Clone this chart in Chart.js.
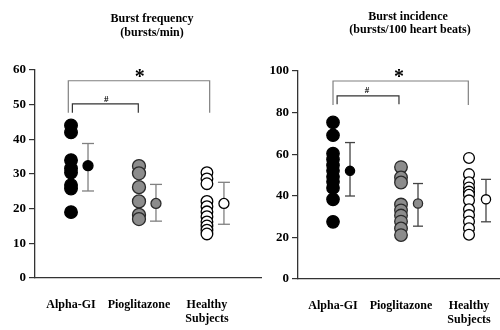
<!DOCTYPE html>
<html>
<head>
<meta charset="utf-8">
<script src="https://cdn.jsdelivr.net/npm/chart.js@4.4.0/dist/chart.umd.min.js"></script>
<style>
  body { margin: 0; background: #fff; }
  #wrap { position: relative; width: 500px; height: 330px; }
  canvas { position: absolute; top: 0; }
  #freqChart { left: 0; }
  #incChart { left: 262px; }
</style>
</head>
<body>
<div id="wrap">
  <canvas id="freqChart" width="262" height="330"></canvas>
  <canvas id="incChart" width="238" height="330"></canvas>
</div>
<script>
const serif = '"Liberation Serif", "Times New Roman", serif';

const categories = ['Alpha-GI', 'Pioglitazone', ['Healthy', 'Subjects']];

// burst frequency (bursts/min)
const freqAlpha = [44, 42, 34, 31.6, 30.4, 26.8, 25.8, 19];
const freqPio = [32.3, 30.2, 26.2, 22.1, 18.2, 17];
const freqHealthy = [30.4, 28.6, 27.2, 22.1, 20.6, 19.1, 17.7, 16.2, 15, 13.8, 12.7];
const freqMean = [32.4, 21.5, 21.5];
const freqLow = [25.1, 16.4, 15.5];
const freqHigh = [38.8, 27, 27.6];

// burst incidence (bursts/100 heart beats)
const incAlpha = [75.3, 69.1, 60.3, 57.5, 54.7, 52, 49.1, 46.7, 43.8, 38.3, 27.5];
const incPio = [53.8, 48.8, 46.4, 35.8, 33, 30.5, 27.6, 24.3, 21.1];
const incHealthy = [58.2, 50.4, 46.5, 44, 42, 40.5, 37.8, 33.5, 30.7, 27.6, 24.4, 21.3];
const incMean = [52, 36.3, 38.3];
const incLow = [39.9, 25.4, 27.5];
const incHigh = [65.6, 45.9, 47.9];

// significance brackets: [x from, x to, top, bottom]
const freqBrackets = [[0.96, 3.04, 56.9, 47.7], [1.02, 1.99, 50.2, 47.7]];
const incBrackets = [[1.0, 2.99, 95.2, 83.6], [1.06, 1.97, 88, 84]];

const groupStyles = [
  { fill: '#000', border: '#000' },
  { fill: '#8c8c8c', border: '#2a2a2a' },
  { fill: '#fff', border: '#000' }
];

const figText = {
  id: 'figText',
  afterDraw(chart, args, opts) {
    const ctx = chart.ctx;
    const xs = chart.scales.x, ys = chart.scales.y;
    ctx.save();
    ctx.fillStyle = '#000';
    ctx.textAlign = 'center';
    ctx.textBaseline = 'middle';
    opts.titles.forEach(t => {
      ctx.font = 'bold ' + t.size + 'px ' + serif;
      ctx.fillText(t.text, t.x, t.y);
    });
    opts.marks.forEach(m => {
      ctx.font = 'bold ' + m.size + 'px ' + serif;
      ctx.fillText(m.text, xs.getPixelForValue(m.x), ys.getPixelForValue(m.y));
    });
    ctx.restore();
  }
};

function makeChart(id, o) {
  const datasets = [];
  const groups = [o.alpha, o.pio, o.healthy];

  groups.forEach((vals, i) => {
    datasets.push({
      data: vals.map(v => ({ x: i + 1, y: v })),
      pointRadius: o.dotRadius[i],
      pointBackgroundColor: groupStyles[i].fill,
      pointBorderColor: groupStyles[i].border,
      pointBorderWidth: 1.3
    });
    datasets.push({
      data: [{ x: i + 1.25, y: o.mean[i] }],
      pointRadius: o.meanRadius,
      pointBackgroundColor: groupStyles[i].fill,
      pointBorderColor: groupStyles[i].border,
      pointBorderWidth: 1.3
    });
    datasets.push({
      data: [{ x: i + 1.25, y: o.low[i] }, { x: i + 1.25, y: o.high[i] }],
      showLine: true,
      borderColor: o.barColor,
      borderWidth: 1.3,
      pointStyle: 'line',
      pointRadius: o.capRadius,
      pointBorderColor: o.barColor,
      pointBorderWidth: 1.3
    });
  });

  o.brackets.forEach((b, i) => {
    datasets.push({
      data: [{ x: b[0], y: b[3] }, { x: b[0], y: b[2] }, { x: b[1], y: b[2] }, { x: b[1], y: b[3] }],
      showLine: true,
      borderColor: i === 0 ? '#808080' : '#333',
      borderWidth: 1.2,
      pointRadius: 0
    });
  });

  return new Chart(document.getElementById(id), {
    type: 'scatter',
    data: { datasets: datasets },
    options: {
      responsive: false,
      animation: false,
      events: [],
      layout: { autoPadding: false, padding: { top: o.top, left: 0, right: 0, bottom: 0 } },
      plugins: {
        legend: { display: false },
        tooltip: { enabled: false },
        figText: { titles: o.titles, marks: o.marks }
      },
      scales: {
        x: {
          type: 'linear',
          min: o.xMin,
          max: o.xMax,
          afterBuildTicks: axis => { axis.ticks = [1, 2, 3].map(v => ({ value: v })); },
          afterFit: axis => {
            axis.height = 330 - o.bottom;
            axis.paddingLeft = 0;
            axis.paddingRight = 0;
          },
          grid: { display: false },
          border: { display: true, color: '#333', width: 1.3 },
          ticks: {
            autoSkip: false,
            maxRotation: 0,
            padding: 12,
            color: '#000',
            font: { family: serif, size: 12, weight: 'bold', lineHeight: 1.15 },
            callback: v => categories[v - 1]
          }
        },
        y: {
          min: 0,
          max: o.yMax,
          afterFit: axis => { axis.width = o.axisWidth; },
          grid: { drawOnChartArea: false, drawTicks: true, tickLength: 6, color: '#333', lineWidth: 1.2 },
          border: { display: true, color: '#333', width: 1.3 },
          ticks: {
            stepSize: o.step,
            padding: 3,
            color: '#000',
            font: { family: serif, size: 13, weight: 'bold' }
          }
        }
      }
    },
    plugins: [figText]
  });
}

makeChart('freqChart', {
  alpha: freqAlpha, pio: freqPio, healthy: freqHealthy,
  mean: freqMean, low: freqLow, high: freqHigh,
  brackets: freqBrackets,
  yMax: 60, step: 10,
  xMin: 0.47, xMax: 3.81,
  top: 70, bottom: 278, axisWidth: 35,
  dotRadius: [6.3, 6.5, 5.8], meanRadius: 5, capRadius: 6,
  barColor: '#808080',
  titles: [
    { text: 'Burst frequency', size: 12, x: 152, y: 19 },
    { text: '(bursts/min)', size: 12, x: 152, y: 33 }
  ],
  marks: [
    { text: '*', size: 20, x: 2.01, y: 57.6 },
    { text: '#', size: 9, x: 1.52, y: 51.5 }
  ]
});

makeChart('incChart', {
  alpha: incAlpha, pio: incPio, healthy: incHealthy,
  mean: incMean, low: incLow, high: incHigh,
  brackets: incBrackets,
  yMax: 100, step: 20,
  xMin: 0.485, xMax: 3.456,
  top: 71, bottom: 279, axisWidth: 36,
  dotRadius: [6.2, 6.3, 5.4], meanRadius: 4.6, capRadius: 5,
  barColor: '#444',
  titles: [
    { text: 'Burst incidence', size: 12, x: 146, y: 17 },
    { text: '(bursts/100 heart beats)', size: 12, x: 148, y: 30 }
  ],
  marks: [
    { text: '*', size: 20, x: 1.97, y: 96.5 },
    { text: '#', size: 9, x: 1.5, y: 90.7 }
  ]
});
</script>
</body>
</html>
